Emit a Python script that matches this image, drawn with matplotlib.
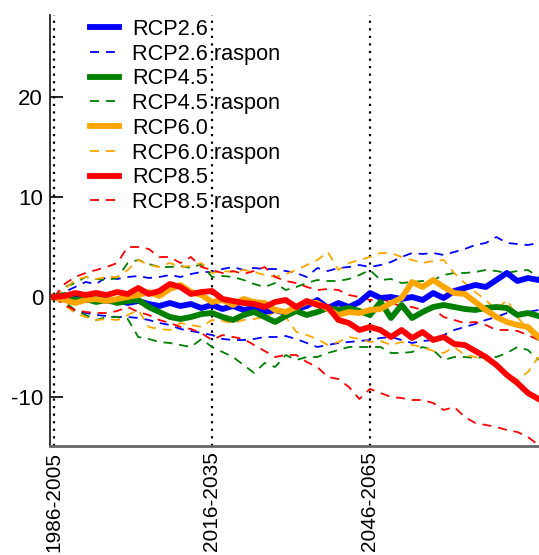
import numpy as np
import matplotlib
matplotlib.use("Agg")
import matplotlib.pyplot as plt

plt.rcParams['font.family'] = ['Liberation Sans', 'DejaVu Sans']

# years since the 1986-2005 reference period (centre), step 2 years
years = list(range(0, 93, 2))

rcp26 = [0, -0.2, 0.1, -0.3, 0, -0.4, -0.3, -0.6, -0.4, -0.7, -0.9, -0.6, -0.9, -0.7, -1.1, -0.8,
         -1.2, -0.9, -1.3, -1.1, -1.5, -1.3, -1.6, -1.2, -0.9, -0.3, -1.1, -0.6, -1.0, -0.5, 0.4,
         -0.1, 0.0, -0.2, 0.0, -0.3, 0.4, -0.1, 0.6, 0.9, 1.2, 1.0, 1.7, 2.4, 1.6, 1.9, 1.7]
rcp26_hi = [0, 0.5, 1.0, 1.5, 1.3, 2.0, 1.8, 2.0, 2.1, 1.9, 2.0, 2.2, 2.0, 2.3, 2.5, 2.5,
            2.8, 3.0, 2.7, 2.9, 2.8, 2.8, 2.6, 2.4, 2.0, 2.9, 2.6, 2.9, 3.0, 3.2, 3.0,
            3.2, 3.5, 4.0, 4.4, 4.3, 4.4, 4.2, 4.5, 4.8, 5.2, 5.4, 6.0, 5.4, 5.3, 5.2, 5.4]
rcp26_lo = [0, -0.8, -1.4, -1.6, -1.8, -1.9, -2.0, -2.0, -2.1, -2.3, -2.6, -2.8, -3.2, -3.4, -3.6, -3.8,
            -4.2, -4.3, -4.3, -4.2, -4.0, -4.0, -3.9, -4.2, -4.6, -5.0, -4.8, -4.6, -4.5, -4.4, -4.3,
            -4.1, -4.0, -4.3, -4.6, -4.4, -4.3, -3.8, -3.3, -3.0, -2.7, -2.3, -2.0, -1.6, -1.6, -1.5, -1.3]

rcp45 = [0, 0.2, -0.3, -0.2, -0.5, -0.3, -0.6, -0.4, -0.3, -1.0, -1.5, -2.0, -2.2, -2.0, -1.7, -1.6,
         -2.0, -2.3, -1.8, -1.5, -2.0, -2.5, -1.9, -1.4, -1.8, -1.5, -1.1, -1.3, -1.1, -1.4, -1.8,
         -0.5, -2.1, -0.8, -2.1, -1.5, -1.0, -0.8, -1.0, -1.2, -1.3, -1.1, -1.0, -1.1, -1.8, -1.6, -1.9]
rcp45_hi = [0, 1.0, 1.4, 2.0, 1.8, 1.7, 1.9, 3.4, 3.7, 3.3, 3.0, 3.0, 3.1, 2.9, 3.3, 2.0,
            2.1, 2.0, 1.7, 1.3, 1.0, 1.4, 0.7, 1.0, 1.4, 1.7, 1.6, 1.6, 1.8, 2.2, 2.7,
            1.7, 1.8, 1.4, 1.5, 1.6, 1.7, 2.2, 2.4, 2.4, 2.5, 2.7, 2.6, 2.4, 2.6, 2.7, 2.0]
rcp45_lo = [0, -0.5, -1.3, -1.8, -2.3, -2.0, -2.0, -2.2, -4.0, -4.2, -4.5, -4.6, -4.8, -5.0, -4.2, -5.0,
            -5.5, -6.0, -6.8, -7.6, -6.6, -7.0, -5.8, -6.3, -6.0, -6.0, -5.6, -5.3, -5.0, -5.0, -5.0,
            -5.0, -5.6, -5.6, -5.5, -5.0, -5.3, -6.3, -6.0, -6.0, -6.1, -6.0, -6.0, -5.6, -5.0, -5.3, -6.3]

rcp60 = [0, -0.3, -0.6, -0.3, -0.2, -0.4, -0.2, 0.0, 0.2, 0.5, 0.1, 0.8, 1.2, 0.5, 0.2, -0.5,
         -0.3, -0.8, -0.2, -0.5, -0.6, -1.3, -1.5, -1.0, -0.5, -0.6, -1.2, -1.8, -1.5, -1.6, -1.3,
         -1.2, -0.6, -0.1, 1.5, 1.0, 1.7, 1.0, 0.4, 0.3, -0.5, -1.3, -2.0, -2.5, -2.8, -3.0, -4.0]
rcp60_hi = [0, 0.8, 1.7, 2.0, 1.8, 2.0, 2.0, 2.7, 3.7, 3.2, 3.0, 3.4, 3.0, 3.1, 3.4, 2.4,
            2.6, 2.5, 2.7, 2.5, 2.2, 2.0, 2.3, 2.7, 3.2, 3.7, 4.5, 2.7, 3.4, 3.7, 4.0,
            4.4, 4.4, 4.0, 3.7, 3.4, 3.6, 3.7, 2.4, 1.4, 0.5, -0.3, -1.3, -0.3, -2.0, -3.3, -4.3]
rcp60_lo = [0, -0.8, -1.6, -2.0, -2.3, -2.2, -2.3, -1.8, -1.3, -3.0, -3.2, -3.3, -2.6, -2.8, -3.0, -2.3,
            -2.4, -2.6, -2.3, -2.2, -2.0, -1.5, -2.0, -3.5, -3.8, -4.2, -4.8, -4.5, -4.0, -4.2, -4.5,
            -4.4, -4.8, -4.5, -4.8, -5.0, -5.4, -5.6, -5.0, -5.8, -6.0, -6.3, -7.0, -7.6, -8.3, -7.5, -6.0]

rcp85 = [0, 0.1, 0.4, 0.2, 0.4, 0.2, 0.5, 0.3, 0.9, 0.3, 0.6, 1.3, 1.0, 0.3, 0.5, 0.6,
         -0.2, -0.4, -0.6, -0.7, -1.0, -0.5, -0.3, -1.0, -0.4, -0.8, -1.0, -2.3, -2.6, -3.3, -3.0,
         -3.3, -4.0, -3.3, -4.1, -3.5, -4.3, -4.0, -4.7, -4.8, -5.4, -6.0, -6.8, -7.8, -8.6, -9.6, -10.2]
rcp85_hi = [0, 1.3, 2.0, 2.4, 2.7, 3.0, 3.4, 5.0, 5.0, 4.8, 4.0, 4.0, 3.4, 4.0, 3.0, 2.7,
            2.4, 2.6, 2.3, 2.6, 3.0, 2.0, 1.6, 1.4, 1.0, 0.7, 0.8, 0.7, 0.2, 0.0, -0.3,
            -0.2, -0.5, -1.0, -1.0, -1.3, -1.2, -2.0, -2.3, -2.6, -2.5, -2.8, -3.3, -3.3, -3.4, -3.8, -4.3]
rcp85_lo = [0, -0.8, -1.3, -1.5, -1.6, -1.6, -1.4, -1.0, -1.5, -1.8, -2.3, -2.6, -3.0, -3.2, -3.6, -4.3,
            -3.8, -4.0, -4.2, -4.8, -5.4, -6.0, -5.8, -5.8, -6.5, -7.0, -8.0, -8.2, -9.0, -10.2, -9.2,
            -9.6, -10.0, -10.1, -10.3, -10.3, -10.6, -11.3, -11.0, -12.0, -12.6, -12.8, -13.0, -13.3, -13.5, -14.0, -14.8]

scenarios = ["RCP2.6", "RCP4.5", "RCP6.0", "RCP8.5"]
colors = ["#0000ff", "#008000", "#ffa500", "#ff0000"]
means = [rcp26, rcp45, rcp60, rcp85]
his = [rcp26_hi, rcp45_hi, rcp60_hi, rcp85_hi]
los = [rcp26_lo, rcp45_lo, rcp60_lo, rcp85_lo]

period_pos = [0, 30, 60]
period_labels = ["1986-2005", "2016-2035", "2046-2065"]
yticks = [-10, 0, 10, 20]

fig = plt.figure(figsize=(5.39, 5.55), dpi=100)
ax = fig.add_axes([50/539, 109/555, 1 - 50/539, (446 - 15)/555])

for p in period_pos:
    ax.axvline(p, color="black", lw=1.6, linestyle=(0, (1, 2.4)), zorder=1)

for name, c, m, hi, lo in zip(scenarios, colors, means, his, los):
    ax.plot(years, m, color=c, lw=4.2, label=name, zorder=3)
    ax.plot(years, hi, color=c, lw=1.3, dashes=(5, 3.8), label=name + " raspon", zorder=2)
    ax.plot(years, lo, color=c, lw=1.3, dashes=(5, 3.8), zorder=2)

ax.set_xlim(-0.76, 92.1)
ax.set_ylim(-14.9, 28.2)
ax.set_yticks(yticks)
ax.set_yticklabels([str(v) for v in yticks])
ax.set_xticks(period_pos)
ax.set_xticklabels(period_labels, rotation=90, va="top", ha="center")
ax.tick_params(axis="y", direction="in", length=9, width=1.2, labelsize=16, pad=5)
ax.tick_params(axis="x", length=0, labelsize=15, pad=4)
for s in ["top", "right"]:
    ax.spines[s].set_visible(False)
ax.spines["left"].set_linewidth(1.3)
ax.spines["left"].set_color("#222222")
ax.spines["bottom"].set_linewidth(2)
ax.spines["bottom"].set_color("#666666")

leg = fig.legend(loc="upper left", bbox_to_anchor=(90/539, 1 - 19/555), frameon=False,
                 fontsize=15.7, handlelength=1.33, handletextpad=0.6, labelspacing=0.17,
                 borderpad=0, borderaxespad=0)

fig.savefig("out.png", dpi=100)
